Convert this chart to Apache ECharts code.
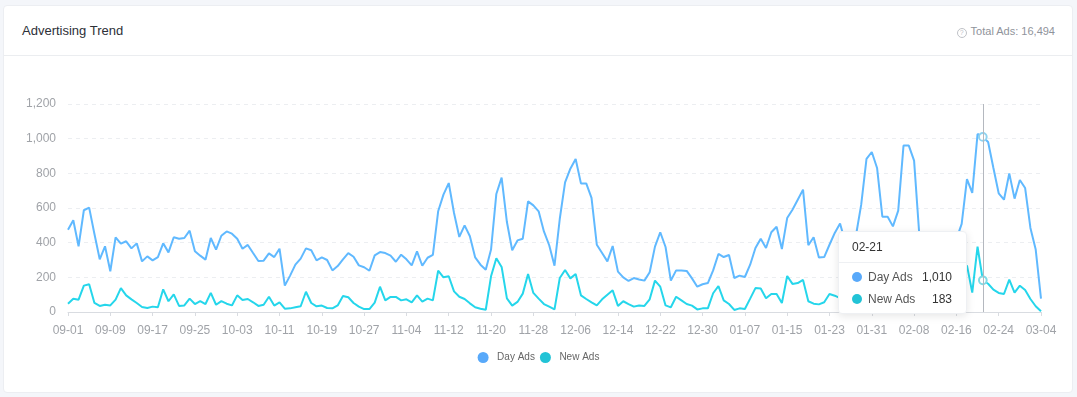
<!DOCTYPE html>
<html>
<head>
<meta charset="utf-8">
<script src="https://cdn.jsdelivr.net/npm/echarts@6/dist/echarts.min.js"></script>
<style>
  html, body { margin:0; padding:0; width:1077px; height:397px; background:#f4f6fa; overflow:hidden;
    font-family:"Liberation Sans", Arial, sans-serif; }
  .card { position:absolute; left:3px; top:5px; width:1068px; height:386px; background:#fff;
    border:1px solid #eceef2; border-radius:4px; }
  .head { position:absolute; left:0; top:0; right:0; height:49px; border-bottom:1px solid #ebedf0; }
  .title { position:absolute; left:18px; top:17px; font-size:13px; color:#2d3038; line-height:16px; }
  .total { position:absolute; right:17px; top:19px; font-size:11px; color:#8f939b; line-height:13px; }
  .q { display:inline-block; width:8px; height:8px; border:1px solid #bfc2c7; border-radius:50%;
    font-size:7px; line-height:8px; text-align:center; color:#bfc2c7; vertical-align:0px; margin-right:4px; }
  #chart { position:absolute; left:0; top:0; width:1077px; height:397px; }
</style>
</head>
<body>
<div class="card">
  <div class="head">
    <div class="title">Advertising Trend</div>
    <div class="total"><span class="q">?</span>Total Ads: 16,494</div>
  </div>
</div>
<div id="chart"></div>
<script>
const startDate = '2022-09-01';
const dayCount = 185;
const yTicks = [0, 200, 400, 600, 800, 1000, 1200];
const seriesNames = ['Day Ads', 'New Ads'];
const colors = ['#58a9fa', '#22c3d6'];

const dayAds = [
  475,529,379,587,602,450,304,379,235,431,394,408,367,396,292,321,298,317,396,344,
  431,423,427,469,350,325,302,427,360,440,465,452,423,365,387,340,294,296,338,317,
  365,152,210,273,308,367,356,298,315,300,240,265,304,340,319,269,258,238,327,346,
  340,325,290,331,304,269,350,267,313,329,581,677,744,571,433,500,437,315,273,244,
  360,681,775,519,356,413,423,638,615,581,465,385,267,538,748,827,883,742,742,658,
  388,340,292,381,233,200,179,196,188,181,229,377,460,375,181,240,240,237,194,146,
  160,167,240,335,317,329,196,210,202,273,369,423,369,460,492,363,542,590,648,706,
  385,431,315,317,388,456,510,400,330,440,619,883,923,831,550,550,494,585,960,960,
  873,440,380,300,260,280,320,380,420,508,767,687,1027,1010,981,831,685,648,800,654,
  762,715,485,360,77
];
const newAds = [
  48,77,71,152,160,52,35,42,38,71,138,96,73,52,29,23,31,27,131,62,
  102,35,38,77,46,63,46,110,42,63,48,38,96,69,75,56,35,42,88,37,
  56,19,21,27,33,117,52,33,37,23,21,38,92,85,52,31,17,17,54,146,
  67,87,87,67,73,56,96,60,77,67,238,200,206,119,88,75,50,27,19,13,
  206,310,260,79,37,58,106,219,110,77,46,31,15,196,242,194,219,96,75,56,
  38,73,100,125,35,62,46,31,38,35,73,181,146,38,27,88,67,46,37,15,
  21,21,108,150,67,46,12,21,17,77,138,135,79,104,104,52,208,162,167,185,
  62,48,44,56,104,94,80,60,40,90,180,240,200,150,90,70,60,110,210,190,
  130,70,45,30,25,35,50,60,120,150,269,112,377,183,163,129,110,104,187,112,
  152,127,75,33,4
];

// category labels MM-DD, one per day
const categories = [];
(function(){
  const d = new Date(startDate + 'T00:00:00Z');
  for (let i = 0; i < dayCount; i++) {
    const mm = String(d.getUTCMonth() + 1).padStart(2, '0');
    const dd = String(d.getUTCDate()).padStart(2, '0');
    categories.push(mm + '-' + dd);
    d.setUTCDate(d.getUTCDate() + 1);
  }
})();

const font = '"Liberation Sans", Arial, sans-serif';
const chart = echarts.init(document.getElementById('chart'), null, { renderer: 'canvas' });

function fmt(v){ return v.toString().replace(/\B(?=(\d{3})+(?!\d))/g, ','); }

chart.setOption({
  animation: false,
  color: colors,
  textStyle: { fontFamily: font },
  grid: { left: 68, right: 36, top: 104, bottom: 85 },
  legend: {
    data: seriesNames,
    left: 'center',
    top: 347,
    icon: 'circle',
    itemWidth: 18,
    itemHeight: 11,
    itemGap: 5,
    textStyle: { fontSize: 10, color: '#666', fontFamily: font }
  },
  tooltip: {
    trigger: 'axis',
    alwaysShowContent: true,
    transitionDuration: 0,
    padding: 0,
    backgroundColor: '#fff',
    borderColor: '#eef0f3',
    borderWidth: 1,
    extraCssText: 'box-shadow:0 2px 8px rgba(0,0,0,0.10);border-radius:4px;',
    position: function(){ return [838, 231]; },
    axisPointer: { type: 'line', lineStyle: { color: '#b4b8bf', width: 1, type: 'solid' } },
    formatter: function(params){
      let h = '<div style="width:127px;font-family:' + font.replace(/"/g,"'") + ';font-size:12px;color:#333;">';
      h += '<div style="height:30px;line-height:30px;padding:0 13px;border-bottom:1px solid #eef0f3;">' + params[0].axisValue + '</div>';
      h += '<div style="padding:3px 14px 3px 13px;">';
      params.forEach(function(p){
        h += '<div style="height:22px;line-height:22px;display:flex;justify-content:space-between;align-items:center;">' +
          '<span style="display:flex;align-items:center;color:#555;"><span style="display:inline-block;width:10px;height:10px;border-radius:50%;background:' + p.color + ';margin-right:6px;"></span>' + p.seriesName + '</span>' +
          '<span style="color:#333;">' + fmt(p.value) + '</span></div>';
      });
      h += '</div></div>';
      return h;
    }
  },
  xAxis: {
    type: 'category',
    data: categories,
    boundaryGap: false,
    axisLine: { lineStyle: { color: '#d9dce1' } },
    axisTick: { interval: 7, length: 4, lineStyle: { color: '#d9dce1' } },
    axisLabel: { interval: 7, color: '#a0a3a8', fontSize: 12, margin: 13 }
  },
  yAxis: {
    type: 'value',
    min: yTicks[0],
    max: yTicks[yTicks.length - 1],
    interval: yTicks[1] - yTicks[0],
    axisLine: { show: false },
    axisTick: { show: false },
    axisLabel: { color: '#a0a3a8', fontSize: 12, margin: 12 },
    splitLine: { lineStyle: { color: '#eceef1', type: [4, 4] } }
  },
  series: [
    {
      name: seriesNames[0], type: 'line', data: dayAds,
      showSymbol: false, symbol: 'emptyCircle', symbolSize: 7,
      lineStyle: { width: 2 },
      emphasis: { itemStyle: { borderColor: '#8fd3f0' } }
    },
    {
      name: seriesNames[1], type: 'line', data: newAds,
      showSymbol: false, symbol: 'emptyCircle', symbolSize: 7,
      lineStyle: { width: 2 },
      emphasis: { itemStyle: { borderColor: '#7fdbe6' } }
    }
  ]
});

chart.dispatchAction({ type: 'showTip', seriesIndex: 0, dataIndex: 173 });
</script>
</body>
</html>
